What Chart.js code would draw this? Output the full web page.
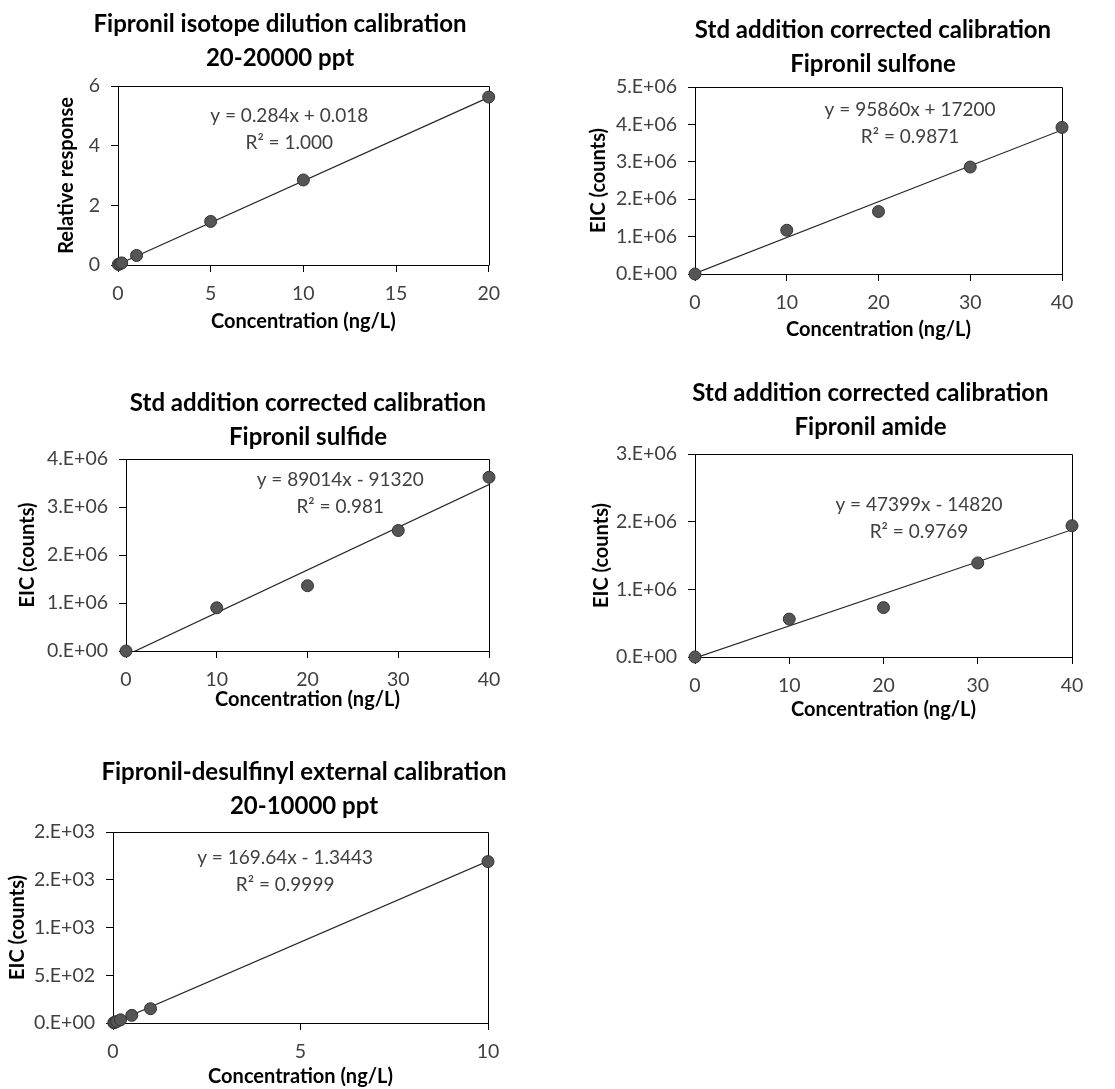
<!DOCTYPE html>
<html>
<head>
<meta charset="utf-8">
<script src="https://cdn.jsdelivr.net/npm/chart.js@4.4.1/dist/chart.umd.min.js"></script>
<style>
  html, body { margin: 0; padding: 0; background: #fff; width: 1115px; height: 1089px; overflow: hidden; }
  canvas { position: absolute; }
</style>
</head>
<body>
<canvas id="c1"></canvas>
<canvas id="c2"></canvas>
<canvas id="c3"></canvas>
<canvas id="c4"></canvas>
<canvas id="c5"></canvas>
<script>
// --- chart 1: isotope dilution
const isoX = [0.02, 0.1, 0.2, 1, 5, 10, 20];
const isoY = [0.02, 0.04, 0.07, 0.32, 1.46, 2.85, 5.63];
const isoTrendX = [0.02, 20];
const isoTrendY = [0.024, 5.62];
const isoYTicks = ['0', '2', '4', '6'];

// --- chart 2: sulfone
const sulfoneX = [0, 10, 20, 30, 40];
const sulfoneY = [0, 1170000, 1670000, 2860000, 3920000];
const sulfoneTrendX = [0, 40];
const sulfoneTrendY = [17200, 3851600];
const sulfoneYTicks = ['0.E+00', '1.E+06', '2.E+06', '3.E+06', '4.E+06', '5.E+06'];

// --- chart 3: sulfide
const sulfideX = [0, 10, 20, 30, 40];
const sulfideY = [0, 900000, 1360000, 2510000, 3620000];
const sulfideTrendX = [0, 40];
const sulfideTrendY = [-91320, 3469240];
const sulfideYTicks = ['0.E+00', '1.E+06', '2.E+06', '3.E+06', '4.E+06'];

// --- chart 4: amide
const amideX = [0, 10, 20, 30, 40];
const amideY = [0, 560000, 730000, 1390000, 1940000];
const amideTrendX = [0, 40];
const amideTrendY = [-14820, 1881140];
const amideYTicks = ['0.E+00', '1.E+06', '2.E+06', '3.E+06'];

// --- chart 5: desulfinyl
const desX = [0.02, 0.05, 0.1, 0.2, 0.5, 1, 10];
const desY = [2, 7, 15, 33, 80, 150, 1690];
const desTrendX = [0.02, 10];
const desTrendY = [2.05, 1695];
const desYTicks = ['0.E+00', '5.E+02', '1.E+03', '2.E+03', '2.E+03'];

const FONT = 'Lato';
const TEXT = '#404040';

// top + right side of the plot box, and the equation text
const boxPlugin = {
  id: 'box',
  beforeDatasetsDraw(chart) {
    const a = chart.chartArea, ctx = chart.ctx;
    ctx.save();
    ctx.strokeStyle = '#000';
    ctx.lineWidth = 1;
    ctx.beginPath();
    ctx.moveTo(Math.round(a.left) + 0.5, Math.round(a.top) + 0.5);
    ctx.lineTo(Math.round(a.right) + 0.5, Math.round(a.top) + 0.5);
    ctx.lineTo(Math.round(a.right) + 0.5, Math.round(a.bottom) + 0.5);
    ctx.stroke();
    ctx.restore();
  },
  afterDatasetsDraw(chart, args, opts) {
    const a = chart.chartArea, ctx = chart.ctx;
    const x = a.left + opts.fx * (a.right - a.left);
    const y = a.top + opts.fy * (a.bottom - a.top);
    ctx.save();
    ctx.fillStyle = TEXT;
    ctx.font = '19px ' + FONT;
    ctx.textAlign = 'center';
    ctx.textBaseline = 'middle';
    opts.lines.forEach((t, i) => ctx.fillText(t, x, y + i * 27));
    ctx.restore();
  }
};

function makeChart(id, g, s) {
  const canvas = document.getElementById(id);
  canvas.width = g.w;
  canvas.height = g.h;
  canvas.style.left = g.left + 'px';
  canvas.style.top = g.top + 'px';

  new Chart(canvas, {
    type: 'scatter',
    data: {
      datasets: [
        {
          data: s.x.map((v, i) => ({ x: v, y: s.y[i] })),
          backgroundColor: '#555555',
          borderColor: '#333333',
          borderWidth: 1,
          pointRadius: 6,
          clip: false,
          order: 0
        },
        {
          type: 'line',
          data: s.tx.map((v, i) => ({ x: v, y: s.ty[i] })),
          borderColor: '#262626',
          borderWidth: 1.2,
          pointRadius: 0,
          order: 1
        }
      ]
    },
    options: {
      responsive: false,
      animation: false,
      layout: { padding: 0 },
      plugins: {
        legend: { display: false },
        tooltip: { enabled: false },
        title: {
          display: true,
          text: s.title,
          color: '#000',
          font: { family: FONT, size: 24, weight: 'bold', lineHeight: '34px' },
          padding: { top: 0, bottom: g.tpb }
        },
        box: { fx: s.eq[0], fy: s.eq[1], lines: s.eqText }
      },
      scales: {
        x: {
          type: 'linear',
          position: 'bottom',
          min: s.xMin, max: s.xMax,
          ticks: { stepSize: s.xStep, color: TEXT, padding: 10, font: { family: FONT, size: 19.5 } },
          grid: { display: true, drawOnChartArea: false, drawTicks: true, tickLength: 7, color: '#000' },
          border: { display: true, color: '#000', width: 1 },
          title: {
            display: true, text: 'Concentration (ng/L)', color: '#000',
            font: { family: FONT, size: 20, weight: 'bold', lineHeight: 1.2 },
            padding: { top: 0, bottom: 0 }
          },
          afterFit(scale) { scale.height = g.xh; }
        },
        y: {
          type: 'linear',
          position: 'left',
          min: 0, max: s.yMax,
          ticks: {
            stepSize: s.yStep, color: TEXT, padding: 11, font: { family: FONT, size: 19.5 },
            callback: (v, i) => s.yTicks[i]
          },
          grid: { display: true, drawOnChartArea: false, drawTicks: true, tickLength: 7, color: '#000' },
          border: { display: true, color: '#000', width: 1 },
          title: {
            display: true, text: s.yTitle, color: '#000',
            font: { family: FONT, size: 20, weight: 'bold', lineHeight: 1.2 },
            padding: { top: g.ytp, bottom: 0 }
          },
          afterFit(scale) { scale.width = g.yw; }
        },
        y2: {
          type: 'linear',
          position: 'right',
          display: true,
          grid: { display: false },
          ticks: { display: false },
          border: { display: false },
          afterFit(scale) { scale.width = g.rw; }
        }
      }
    },
    plugins: [boxPlugin]
  });
}

makeChart('c1',
  { left: 50, top: 7, w: 460, h: 327, yw: 68, rw: 13, xh: 69, tpb: 11, ytp: 5 },
  { x: isoX, y: isoY, tx: isoTrendX, ty: isoTrendY,
    title: ['Fipronil isotope dilution calibration', '20-20000 ppt'],
    yTitle: 'Relative response', xMin: 0, xMax: 20, xStep: 5, yMax: 6, yStep: 2, yTicks: isoYTicks,
    eq: [0.462, 0.168], eqText: ['y = 0.284x + 0.018', 'R² = 1.000'] });

makeChart('c2',
  { left: 585, top: 13, w: 576, h: 329, yw: 110, rw: 99, xh: 68, tpb: 6, ytp: 2 },
  { x: sulfoneX, y: sulfoneY, tx: sulfoneTrendX, ty: sulfoneTrendY,
    title: ['Std addition corrected calibration', 'Fipronil sulfone'],
    yTitle: 'EIC (counts)', xMin: 0, xMax: 40, xStep: 10, yMax: 5000000, yStep: 1000000, yTicks: sulfoneYTicks,
    eq: [0.586, 0.123], eqText: ['y = 95860x + 17200', 'R² = 0.9871'] });

makeChart('c3',
  { left: 10, top: 386, w: 596, h: 326, yw: 116, rw: 117, xh: 61, tpb: 5, ytp: 6 },
  { x: sulfideX, y: sulfideY, tx: sulfideTrendX, ty: sulfideTrendY,
    title: ['Std addition corrected calibration', 'Fipronil sulfide'],
    yTitle: 'EIC (counts)', xMin: 0, xMax: 40, xStep: 10, yMax: 4000000, yStep: 1000000, yTicks: sulfideYTicks,
    eq: [0.590, 0.109], eqText: ['y = 89014x - 91320', 'R² = 0.981'] });

makeChart('c4',
  { left: 590, top: 376, w: 561, h: 346, yw: 105, rw: 79, xh: 65, tpb: 10, ytp: 0 },
  { x: amideX, y: amideY, tx: amideTrendX, ty: amideTrendY,
    title: ['Std addition corrected calibration', 'Fipronil amide'],
    yTitle: 'EIC (counts)', xMin: 0, xMax: 40, xStep: 10, yMax: 3000000, yStep: 1000000, yTicks: amideYTicks,
    eq: [0.594, 0.251], eqText: ['y = 47399x - 14820', 'R² = 0.9769'] });

makeChart('c5',
  { left: 6, top: 755, w: 596, h: 334, yw: 107, rw: 114, xh: 66, tpb: 9, ytp: 0 },
  { x: desX, y: desY, tx: desTrendX, ty: desTrendY,
    title: ['Fipronil-desulfinyl external calibration', '20-10000 ppt'],
    yTitle: 'EIC (counts)', xMin: 0, xMax: 10, xStep: 5, yMax: 2000, yStep: 500, yTicks: desYTicks,
    eq: [0.459, 0.136], eqText: ['y = 169.64x - 1.3443', 'R² = 0.9999'] });
</script>
</body>
</html>
